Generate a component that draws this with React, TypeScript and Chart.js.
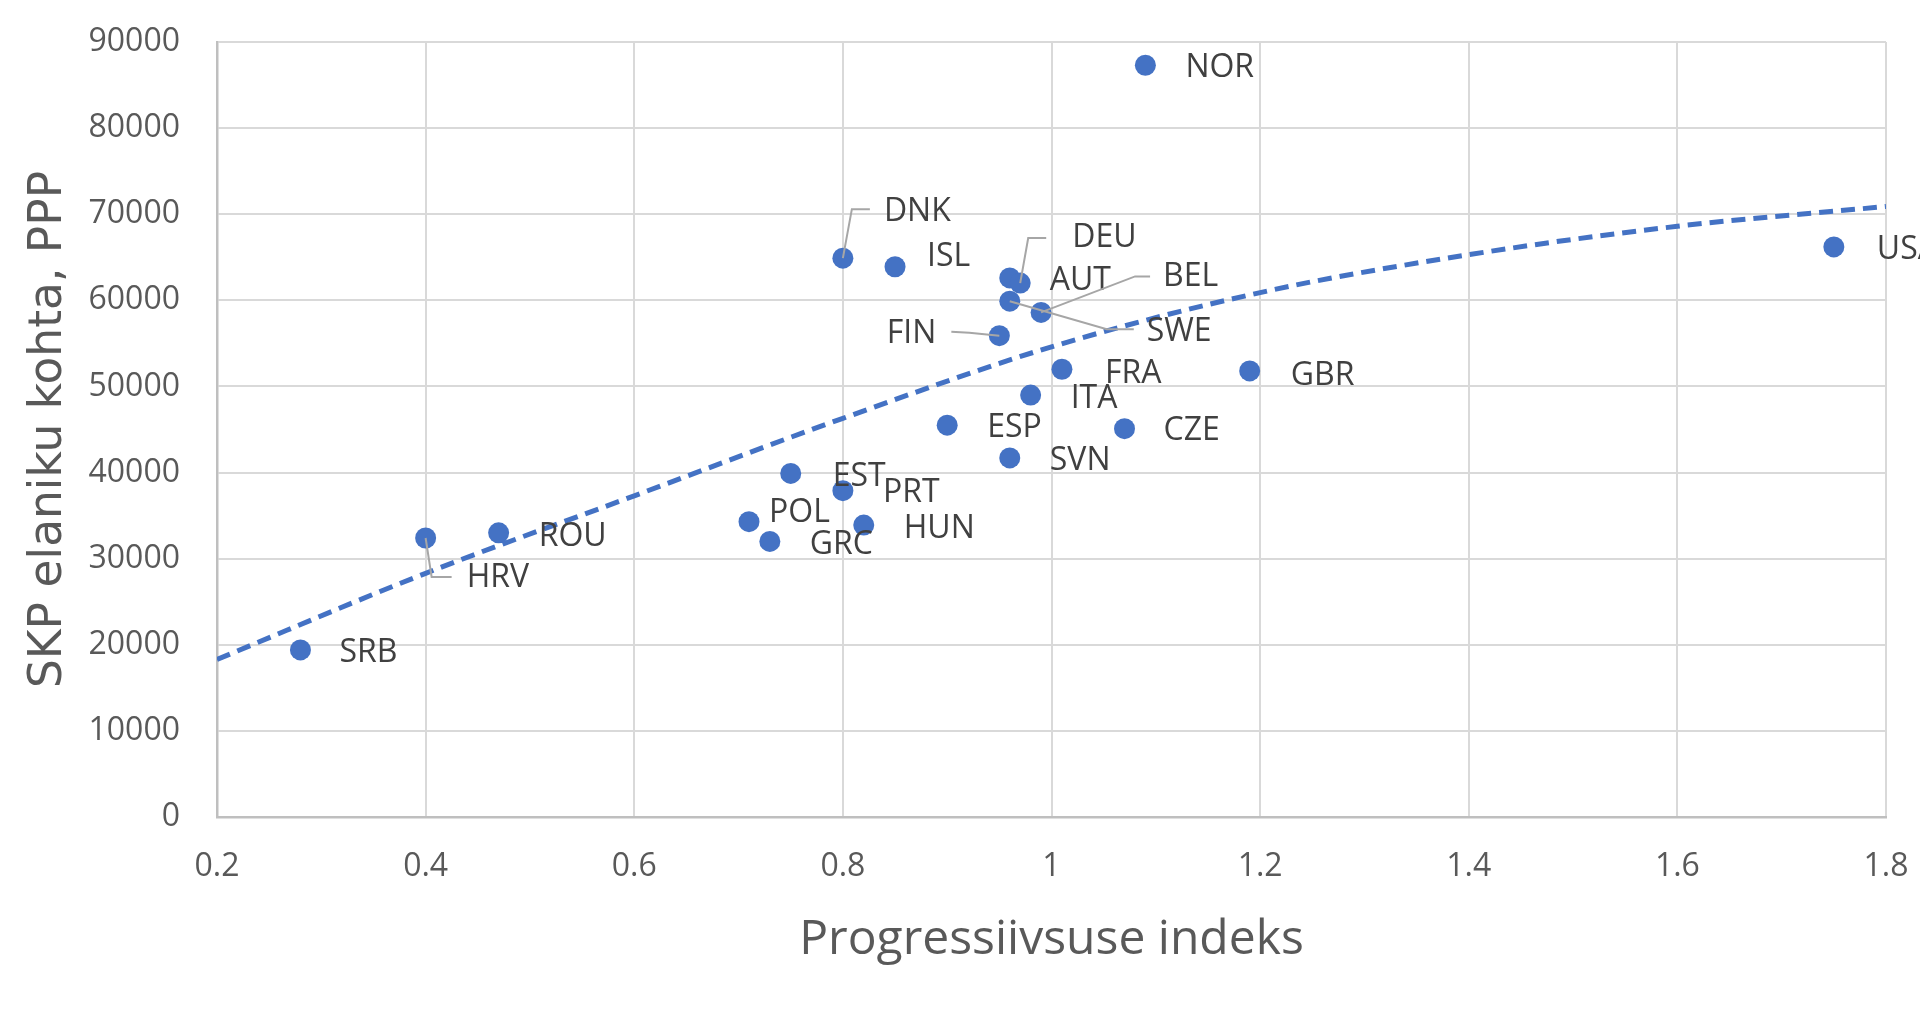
import React, { useEffect, useRef } from 'react';
import { Chart, registerables } from 'chart.js';

Chart.register(...registerables);

// ---- data ----
const countries = ['NOR', 'DNK', 'ISL', 'AUT', 'DEU', 'SWE', 'BEL', 'FIN', 'FRA', 'GBR', 'ITA', 'ESP', 'CZE', 'SVN', 'EST', 'PRT', 'POL', 'GRC', 'HUN', 'HRV', 'ROU', 'SRB', 'USA'];
const progressIndex = [1.09, 0.80, 0.85, 0.96, 0.97, 0.96, 0.99, 0.95, 1.01, 1.19, 0.98, 0.90, 1.07, 0.96, 0.75, 0.80, 0.71, 0.73, 0.82, 0.40, 0.47, 0.28, 1.75];
const gdpPerCapita = [87300, 64900, 63900, 62600, 62000, 59900, 58600, 55900, 52000, 51800, 49000, 45500, 45100, 41700, 39900, 37900, 34300, 32000, 33900, 32400, 33000, 19400, 66200];

const trendX = [0.2, 0.4, 0.6, 0.8, 1.0, 1.2, 1.4, 1.6, 1.8];
const trendY = [18300, 28300, 37300, 46300, 54600, 60900, 65300, 68600, 70900];

const xTickValues = [0.2, 0.4, 0.6, 0.8, 1.0, 1.2, 1.4, 1.6, 1.8];
const xTickLabels = ['0.2', '0.4', '0.6', '0.8', '1', '1.2', '1.4', '1.6', '1.8'];
const yTickValues = [0, 10000, 20000, 30000, 40000, 50000, 60000, 70000, 80000, 90000];
const yTickLabels = ['0', '10000', '20000', '30000', '40000', '50000', '60000', '70000', '80000', '90000'];

const xTitle = 'Progressiivsuse indeks';
const yTitle = 'SKP elaniku kohta, PPP';

// ---- label placement (pixel offsets from the marker) ----
type LabelPos = { dx: number; dy: number; align?: 'left' | 'right'; leader?: [number, number][] };
const labelLayout: Record<string, LabelPos> = {
  NOR: { dx: 40, dy: 3 },
  DNK: { dx: 41, dy: -46, leader: [[9, -49], [27, -49]] },
  ISL: { dx: 32, dy: -10 },
  AUT: { dx: 40, dy: 3 },
  DEU: { dx: 52, dy: -45, leader: [[8, -45], [26, -45]] },
  SWE: { dx: 137, dy: 31, leader: [[97, 28], [124, 28]] },
  BEL: { dx: 122, dy: -35, leader: [[94, -36], [109, -36]] },
  FIN: { dx: -63, dy: -2, align: 'right', leader: [[-30, -3], [-48, -4]] },
  FRA: { dx: 43, dy: 5 },
  GBR: { dx: 41, dy: 5 },
  ITA: { dx: 40, dy: 4 },
  ESP: { dx: 40, dy: 3 },
  CZE: { dx: 39, dy: 2 },
  SVN: { dx: 40, dy: 3 },
  EST: { dx: 42, dy: 3 },
  PRT: { dx: 40, dy: 2 },
  POL: { dx: 20, dy: -9 },
  GRC: { dx: 40, dy: 3 },
  HUN: { dx: 40, dy: 4 },
  HRV: { dx: 41, dy: 40, leader: [[6, 39], [26, 39]] },
  ROU: { dx: 40, dy: 4 },
  SRB: { dx: 39, dy: 3 },
  USA: { dx: 43, dy: 3 },
};

const BLUE = '#4472C4';

const labelPlugin = {
  id: 'pointLabels',
  afterDatasetsDraw(chart: any) {
    const meta = chart.getDatasetMeta(1);
    const ctx = chart.ctx as CanvasRenderingContext2D;
    ctx.save();
    meta.data.forEach((el: any, i: number) => {
      const name = countries[i];
      const pos = labelLayout[name] || { dx: 40, dy: 3 };
      const px = el.x;
      const py = el.y;
      if (pos.leader) {
        ctx.beginPath();
        ctx.strokeStyle = '#A6A6A6';
        ctx.lineWidth = 2;
        ctx.moveTo(px, py);
        pos.leader.forEach(([lx, ly]) => ctx.lineTo(px + lx, py + ly));
        ctx.stroke();
      }
      ctx.fillStyle = '#404040';
      ctx.font = '32px "Open Sans"';
      ctx.textBaseline = 'middle';
      ctx.textAlign = pos.align || 'left';
      ctx.fillText(name, px + pos.dx, py + pos.dy);
    });
    ctx.restore();
  },
};

export default function App() {
  const canvasRef = useRef<HTMLCanvasElement | null>(null);

  useEffect(() => {
    document.body.style.margin = '0';
    const canvas = canvasRef.current;
    if (!canvas) return;

    const points = progressIndex.map((x, i) => ({ x, y: gdpPerCapita[i] }));
    const trend = trendX.map((x, i) => ({ x, y: trendY[i] }));

    const chart = new Chart(canvas, {
      type: 'scatter',
      data: {
        datasets: [
          {
            type: 'line',
            data: trend,
            borderColor: BLUE,
            borderWidth: 5,
            borderDash: [14, 8],
            pointRadius: 0,
            fill: false,
            cubicInterpolationMode: 'monotone',
            order: 0,
          } as any,
          {
            data: points,
            pointRadius: 10.5,
            pointHoverRadius: 10.5,
            backgroundColor: BLUE,
            borderWidth: 0,
            order: 1,
          },
        ],
      },
      options: {
        animation: false,
        responsive: false,
        devicePixelRatio: 1,
        layout: { padding: { top: 42, right: 34, bottom: 0, left: 0 } },
        plugins: {
          legend: { display: false },
          tooltip: { enabled: false },
        },
        scales: {
          x: {
            type: 'linear',
            min: 0.2,
            max: 1.8,
            afterBuildTicks: (scale: any) => {
              scale.ticks = xTickValues.map((v) => ({ value: v }));
            },
            afterFit: (scale: any) => {
              scale.height = 207;
              scale.paddingLeft = 0;
              scale.paddingRight = 0;
            },
            grid: { color: '#D9D9D9', lineWidth: 2, drawTicks: false },
            border: { color: '#BFBFBF', width: 2.5 },
            ticks: {
              padding: 31,
              color: '#595959',
              font: { family: 'Open Sans', size: 32 },
              maxRotation: 0,
              autoSkip: false,
              callback: (_v: any, i: number) => xTickLabels[i] ?? '',
            },
            title: {
              display: true,
              text: xTitle,
              color: '#595959',
              font: { family: 'Open Sans', size: 48 },
              padding: { top: 0, bottom: 55 },
            },
          },
          y: {
            type: 'linear',
            min: 0,
            max: 90000,
            afterBuildTicks: (scale: any) => {
              scale.ticks = yTickValues.map((v) => ({ value: v }));
            },
            afterFit: (scale: any) => {
              scale.width = 217;
              scale.paddingTop = 0;
              scale.paddingBottom = 0;
            },
            grid: { color: '#D9D9D9', lineWidth: 2, drawTicks: false },
            border: { color: '#BFBFBF', width: 2.5 },
            ticks: {
              padding: 37,
              color: '#595959',
              font: { family: 'Open Sans', size: 32 },
              autoSkip: false,
              callback: (_v: any, i: number) => yTickLabels[i] ?? '',
            },
            title: {
              display: true,
              text: yTitle,
              color: '#595959',
              font: { family: 'DejaVu Sans', size: 45.5 },
              padding: { top: 22, bottom: 0 },
            },
          },
        },
      },
      plugins: [labelPlugin],
    });

    return () => chart.destroy();
  }, []);

  return (
    <div style={{ width: 1920, height: 1024, background: '#ffffff' }}>
      <canvas ref={canvasRef} width={1920} height={1024} style={{ width: 1920, height: 1024, display: 'block' }} />
    </div>
  );
}
